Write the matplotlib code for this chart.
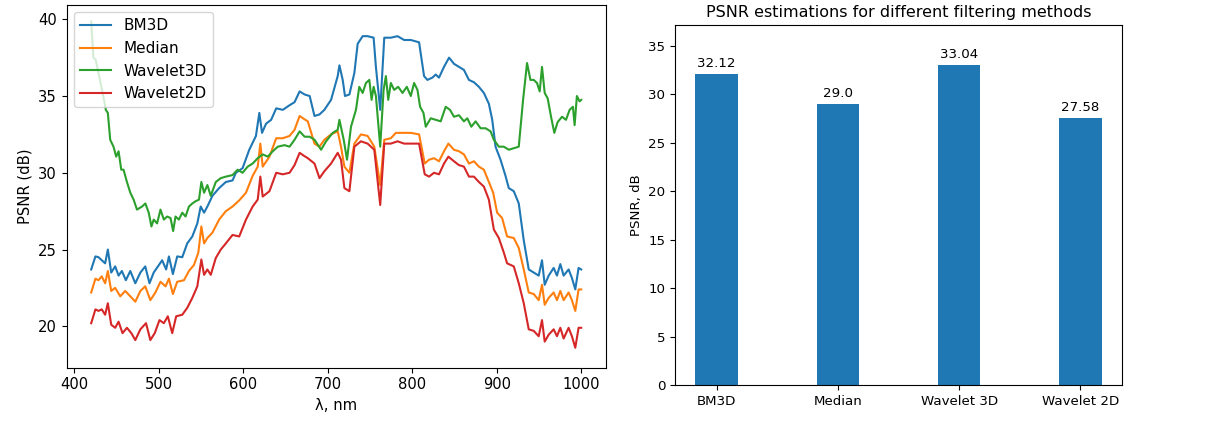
import numpy as np
import matplotlib
matplotlib.use('Agg')
import matplotlib.pyplot as plt

# PSNR per band
wl_bm3d = [420, 425, 428.6, 432.5, 436.5, 439.7, 443.7, 448.4, 452.4, 456.3, 461, 466.3, 472.2, 478.2,
           484, 489, 494, 499, 504, 508.7, 512, 516.7, 521.8, 527.8, 533.7, 539.7, 545.6, 549.6,
           553.6, 557.5, 563.5, 571.4, 579.4, 587.3, 591.3, 599.2, 607.1, 615, 619, 622.2, 627, 633,
           639, 646.8, 654.8, 660.7, 666.7, 672.6, 678.6, 684.3, 690.2, 696, 703.9, 711.8, 713.8,
           717.7, 720.4, 725.6, 731.5, 735.4, 741.3, 747.2, 754.3, 757, 762.1, 766.9, 774.7, 782.6,
           790.4, 798.3, 808.1, 814, 817.9, 823.9, 827.8, 831.7, 837.6, 843.6, 849.4, 855.3, 861.2,
           867.1, 873, 878.9, 884.8, 890.7, 894.7, 898.6, 904.5, 910.4, 914.3, 920.2, 926.1, 932,
           937.9, 943.8, 949.7, 953.6, 956.8, 961.5, 967.4, 971.3, 975.3, 979.2, 985.1, 989, 993,
           996.9, 1000]
bm3d = [23.7, 24.55, 24.5, 24.3, 24.1, 25.0, 23.5, 23.9, 23.3, 23.6, 23.0, 23.6, 22.8, 23.5,
        23.9, 22.8, 23.5, 23.9, 24.3, 23.7, 24.55, 23.4, 24.55, 24.5, 25.4, 25.85, 26.7, 27.8,
        27.4, 27.8, 28.5, 29.0, 29.4, 29.5, 30.0, 30.3, 31.5, 32.4, 33.9, 32.6, 33.2, 33.45,
        34.2, 34.1, 34.4, 34.6, 35.3, 35.1, 35.0, 33.7, 33.8, 34.1, 34.75, 36.3, 37.0,
        36.05, 35.0, 35.1, 36.5, 38.4, 38.9, 38.9, 38.8, 36.9, 34.1, 38.8, 38.8, 38.9,
        38.65, 38.65, 38.5, 36.3, 36.05, 36.2, 36.4, 36.2, 36.9, 37.5, 37.1, 36.9, 36.7,
        36.05, 35.9, 35.6, 35.2, 34.5, 33.45, 31.7, 30.85, 29.8, 29.0, 28.8, 28.0, 25.6,
        23.7, 23.5, 23.3, 24.3, 22.7, 23.3, 23.8, 23.3, 24.05, 23.3, 23.7, 23.15, 22.4,
        23.8, 23.7]

wl_median = [420, 425, 428.6, 432.5, 436.5, 439.7, 443.7, 448.4, 454.4, 460.3, 466.3, 472.2, 478.2,
             484, 490, 496, 502, 508, 512, 516.7, 521.8, 529.8, 535.7, 541.7, 546.8, 550.4, 553.6,
             557.5, 563.5, 571.4, 579.4, 587.3, 595.2, 603.2, 611.1, 617.1, 620.2, 623, 631, 639,
             646.8, 654.8, 660.7, 666.7, 672, 676.4, 684.3, 690.2, 696, 703.9, 711.8, 715.7, 719.7,
             725.6, 731.5, 739.3, 747.2, 755.1, 762.1, 766.9, 774.7, 780.6, 790.4, 798.3, 808.1,
             814.8, 819.9, 825.8, 831.7, 837.6, 842.8, 849.4, 855.3, 861.2, 867.1, 873, 878.9,
             884.8, 890.7, 895.8, 900.5, 906.4, 912.3, 920.2, 926.1, 932, 937.9, 943.8, 949.7,
             953.6, 956.8, 961.5, 967.4, 971.3, 975.3, 979.2, 985.1, 989, 993, 996.9, 1000]
median = [22.2, 23.1, 23.0, 23.25, 22.8, 23.6, 22.3, 22.5, 21.95, 22.3, 21.95, 21.6, 22.3,
          22.6, 21.7, 22.2, 22.9, 22.6, 23.1, 22.1, 22.9, 23.0, 23.6, 24.0, 24.8, 26.5, 25.4,
          25.75, 26.1, 26.95, 27.5, 27.8, 28.2, 28.7, 29.8, 30.4, 31.9, 30.4, 31.05, 32.25,
          32.25, 32.4, 32.8, 33.7, 33.5, 33.35, 31.9, 31.7, 32.15, 32.5, 32.7, 31.7, 30.4,
          30.0, 31.9, 32.5, 32.4, 31.7, 29.2, 32.15, 32.25, 32.6, 32.6, 32.6, 32.5,
          30.6, 30.85, 30.95, 30.75, 31.4, 31.9, 31.5, 31.4, 31.2, 30.6, 30.75, 30.4,
          30.2, 29.4, 28.7, 27.4, 27.05, 25.85, 25.75, 25.1, 23.7, 22.2, 22.1, 21.7,
          22.7, 21.4, 21.85, 22.2, 21.7, 22.3, 21.7, 22.2, 21.7, 21.0, 22.4, 22.4]

wl_wav3d = [420, 422.6, 425.4, 428.6, 431.7, 434.5, 437.3, 439.7, 442.5, 446.4, 449.6, 452.4, 455.6,
            458.3, 462.3, 466.3, 470.2, 474.2, 480.2, 484.1, 488.1, 491.3, 494, 498, 502, 506, 509.9,
            513.9, 517, 519.8, 523.8, 527.8, 531.7, 535.7, 539.7, 543.7, 547.6, 550.4, 553.6, 557.5,
            561.5, 567.5, 573.4, 579.4, 587.3, 593.3, 599.2, 605.2, 611.1, 617.1, 623, 629, 634.9,
            640.9, 648.8, 654.8, 660.7, 666.7, 672.6, 678.6, 684.4, 692.1, 698, 705.9, 711.8, 713.8,
            718.9, 722.8, 727.5, 733.4, 737.3, 741.3, 745.2, 749.2, 751.9, 754.3, 757, 762.1, 766.1,
            768.8, 771.6, 774.7, 778.6, 783.4, 788.5, 793.6, 798.3, 802.2, 806.2, 809.3, 813.3, 816,
            821.9, 827.8, 833.7, 839.6, 844.7, 849.4, 855.3, 861.2, 865.2, 869.9, 875, 880.9, 886.8,
            892.7, 896.6, 902.5, 908.4, 914.3, 920.2, 926.1, 931.2, 935.9, 939.9, 943.8, 947.7,
            950.9, 953.6, 956.8, 960.3, 964.3, 968.2, 972.1, 977.3, 982, 986.3, 990.2, 992.2, 994.9,
            998.1, 1000]
wav3d = [39.85, 37.5, 37.35, 36.5, 35.7, 34.95, 34.1, 33.9, 32.15, 31.7, 31.05, 31.4, 30.2,
         30.2, 29.4, 28.7, 28.25, 27.6, 27.8, 28.0, 27.4, 26.5, 26.95, 26.7, 27.6, 26.95, 27.15,
         27.05, 26.2, 27.15, 26.95, 27.4, 27.15, 27.8, 28.0, 28.15, 28.25, 29.4, 28.7, 29.2,
         28.5, 29.4, 29.65, 29.75, 29.85, 30.2, 30.0, 30.4, 30.6, 30.95, 31.2, 31.05, 31.4,
         31.7, 31.8, 31.7, 32.15, 32.7, 32.35, 32.35, 32.15, 31.5, 32.05, 32.6, 32.8, 33.45,
         32.15, 30.85, 33.0, 34.1, 35.6, 35.2, 35.85, 36.05, 34.75, 35.6, 35.0, 31.7, 35.4,
         36.3, 34.75, 35.85, 35.4, 35.6, 35.2, 35.6, 35.0, 35.85, 35.4, 34.3, 33.9, 33.0,
         33.55, 33.45, 33.35, 34.3, 34.1, 33.65, 33.75, 33.35, 33.55, 33.0, 33.35, 32.9, 32.9,
         32.7, 32.15, 31.7, 31.7, 31.5, 31.6, 31.7, 34.75, 37.15, 36.05, 36.05, 35.85,
         35.3, 36.9, 35.2, 34.85, 33.65, 32.6, 33.3, 33.65, 33.45, 34.1, 34.3, 33.1, 35.0,
         34.65, 34.75]

wl_wav2d = [420, 425, 428.6, 432.5, 436.5, 439.7, 443.7, 448.4, 452.4, 457.1, 462.3, 467.5, 472.2,
            478.2, 484.9, 490, 495.2, 500.8, 506, 510.7, 515.9, 520.6, 527.8, 533.7, 539.7, 545.6,
            550.4, 553.6, 557.5, 561.5, 567.5, 573.4, 579.4, 587.3, 595.2, 603.2, 611.1, 617.1,
            620.2, 623, 631, 639, 646.8, 654.8, 660.7, 666.7, 672, 676.4, 684.3, 690.2, 696, 703.9,
            711.8, 715.7, 719.7, 725.6, 731.5, 739.3, 747.2, 755.1, 762.1, 766.9, 774.7, 782.6,
            790.4, 798.3, 808.1, 814.8, 819.9, 825.8, 831.7, 837.6, 842.8, 849.4, 855.3, 861.2,
            867.1, 873, 878.9, 884.8, 890.7, 896.6, 902.5, 908.4, 912.3, 920.2, 926.1, 932, 937.9,
            943.8, 949.7, 953.6, 956.8, 961.5, 967.4, 971.3, 975.3, 979.2, 985.1, 989, 993, 996.9,
            1000]
wav2d = [20.2, 21.1, 21.0, 21.1, 20.75, 21.5, 20.1, 19.9, 20.3, 19.55, 19.9, 19.55, 19.1,
         19.8, 20.2, 19.1, 19.55, 20.4, 20.2, 20.65, 19.55, 20.65, 20.75, 21.2, 21.85, 22.6,
         24.35, 23.35, 23.7, 23.35, 24.45, 25.0, 25.4, 25.95, 25.85, 26.95, 27.8, 28.25,
         29.75, 28.45, 28.8, 30.0, 29.9, 30.0, 30.5, 31.3, 31.1, 30.95, 30.6, 29.65, 30.1, 30.6,
         31.3, 30.85, 29.0, 28.8, 31.7, 32.05, 31.9, 31.5, 27.9, 31.9, 31.9, 32.05,
         31.9, 31.9, 31.9, 29.9, 29.75, 30.0, 29.9, 30.6, 31.05, 30.75, 30.5, 30.4,
         29.75, 29.75, 29.4, 29.1, 28.25, 26.3, 25.75, 24.8, 24.1, 23.9, 22.8, 21.5, 19.8,
         19.7, 19.35, 20.4, 19.0, 19.45, 19.8, 19.35, 19.9, 19.2, 19.9, 19.35, 18.6, 19.9,
         19.9]

# average PSNR per method
methods = ['BM3D', 'Median', 'Wavelet 3D', 'Wavelet 2D']
psnr_mean = [32.12, 29.0, 33.04, 27.58]

fig = plt.figure(figsize=(12.32, 4.25), dpi=100)

# left: PSNR vs wavelength
ax1 = fig.add_axes([66.7 / 1232, 57.3 / 425, 539 / 1232, 363 / 425])
ax1.plot(wl_bm3d, bm3d, label='BM3D')
ax1.plot(wl_median, median, label='Median')
ax1.plot(wl_wav3d, wav3d, label='Wavelet3D')
ax1.plot(wl_wav2d, wav2d, label='Wavelet2D')
ax1.set_xlim(391, 1029)
ax1.set_ylim(17.3, 40.95)
ax1.set_xlabel('λ, nm', fontsize=10.6)
ax1.set_ylabel('PSNR (dB)', fontsize=10.6)
ax1.tick_params(labelsize=10.6)
ax1.legend(loc='upper left', fontsize=11)

# right: mean PSNR per method
ax2 = fig.add_axes([675 / 1232, 40 / 425, 447 / 1232, 360 / 425])
x = np.arange(len(methods))
bars = ax2.bar(x, psnr_mean, width=0.35)
for b, v in zip(bars, psnr_mean):
    ax2.annotate(str(v), xy=(b.get_x() + b.get_width() / 2, b.get_height()),
                 xytext=(0, 3), textcoords='offset points',
                 ha='center', va='bottom', fontsize=9.6)
ax2.set_xticks(x)
ax2.set_xticklabels(methods)
ax2.set_ylim(0, max(psnr_mean) * 1.125)
ax2.set_ylabel('PSNR, dB', fontsize=9.6)
ax2.set_title('PSNR estimations for different filtering methods', fontsize=11.5)
ax2.tick_params(labelsize=9.6)

fig.savefig('out.png', dpi=100)
